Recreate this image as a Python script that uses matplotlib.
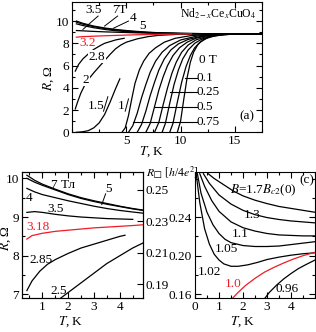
"""Nd2-xCexCuO4 resistance curves: R(T) at fields, low-T zoom, theory curves"""
import matplotlib
matplotlib.use("Agg")
import matplotlib.pyplot as plt
from matplotlib.ticker import MultipleLocator, FixedLocator

plt.rcParams['font.family'] = ['Liberation Serif', 'DejaVu Serif']
plt.rcParams['mathtext.fontset'] = 'stix'
plt.rcParams['font.size'] = 9.5

# ---- panel (a): R(T) at fields, full range ----
# superconducting transitions (B = 1, 0.75, 0.6, 0.5, 0.35, 0.25, 0.1, 0 T)
trans_T = [
    [4.6, 4.9, 5.2, 5.5, 5.8, 6.2, 6.6, 7.1, 7.7, 8.5, 9.5, 11, 13, 17.5],
    [5.2, 5.6, 6.0, 6.4, 6.8, 7.2, 7.7, 8.3, 9.0, 10, 11.5, 13, 17.5],
    [6.0, 6.4, 6.8, 7.2, 7.6, 8.0, 8.5, 9.1, 9.8, 10.7, 12, 13.5, 17.5],
    [6.8, 7.2, 7.6, 8.0, 8.4, 8.8, 9.3, 9.9, 10.6, 11.4, 12.5, 14, 17.5],
    [7.6, 8.0, 8.4, 8.8, 9.2, 9.6, 10.1, 10.7, 11.4, 12.2, 13.2, 14.5, 17.5],
    [8.3, 8.6, 9.0, 9.4, 9.8, 10.2, 10.7, 11.3, 12.0, 12.8, 13.8, 15, 17.5],
    [9.0, 9.3, 9.7, 10.1, 10.5, 10.9, 11.3, 11.8, 12.4, 13.1, 14, 15.2, 17.5],
    [9.7, 10.0, 10.3, 10.6, 10.9, 11.2, 11.6, 12.1, 12.7, 13.4, 14.3, 15.5, 17.5],
]
trans_R = [
    [0, 0.4, 1.5, 3.0, 4.4, 5.6, 6.4, 7.1, 7.6, 8.1, 8.45, 8.7, 8.82, 8.85],
    [0, 0.6, 1.7, 3.1, 4.3, 5.4, 6.4, 7.2, 7.8, 8.3, 8.65, 8.8, 8.85],
    [0, 0.7, 1.9, 3.3, 4.5, 5.6, 6.6, 7.4, 7.95, 8.35, 8.65, 8.8, 8.85],
    [0, 0.8, 2.3, 3.8, 5.0, 6.0, 6.9, 7.6, 8.1, 8.45, 8.7, 8.82, 8.85],
    [0, 0.9, 2.5, 4.0, 5.3, 6.3, 7.2, 7.85, 8.3, 8.55, 8.72, 8.82, 8.85],
    [0, 0.8, 2.6, 4.3, 5.6, 6.6, 7.4, 8.0, 8.4, 8.62, 8.76, 8.83, 8.85],
    [0, 0.8, 2.7, 4.5, 5.9, 6.9, 7.6, 8.1, 8.45, 8.65, 8.78, 8.84, 8.85],
    [0, 1.0, 3.0, 4.9, 6.3, 7.2, 7.9, 8.35, 8.6, 8.75, 8.82, 8.85, 8.85],
]

T_15 = [0.4, 1.0, 1.5, 2.0, 2.5, 3.0, 3.5, 4.0, 4.4]
R_15 = [0.0, 0.05, 0.15, 0.4, 0.85, 1.6, 2.7, 3.9, 4.8]

T_2 = [0.3, 0.5, 0.8, 1.2, 1.5, 2.0, 2.5, 3.0, 3.5, 4.0, 4.5, 5.0, 6.0, 7.0, 8.0, 10, 12, 14, 17.5]
R_2 = [2.1, 2.7, 3.5, 4.3, 4.75, 5.35, 5.9, 6.45, 7.0, 7.5, 7.85, 8.1, 8.4, 8.6, 8.72, 8.82, 8.85, 8.85, 8.85]

T_28 = [0.3, 0.6, 1.0, 1.5, 2.0, 2.6, 3.0, 3.5, 4.0, 4.5, 4.8]
R_28 = [5.5, 6.1, 6.6, 7.05, 7.45, 7.8, 8.0, 8.15, 8.3, 8.4, 8.45]

T_32 = [0.4, 1, 2, 3, 4, 5, 6, 7, 8, 10, 11]
R_32 = [8.55, 8.6, 8.64, 8.68, 8.71, 8.74, 8.77, 8.79, 8.81, 8.84, 8.85]

T_hi = [0.4, 1, 2, 3, 4, 5, 6, 7, 8, 10, 12, 14, 17.5]
R_35 = [9.15, 9.12, 9.07, 9.03, 9.0, 8.97, 8.94, 8.92, 8.9, 8.87, 8.86, 8.85, 8.85]
R_4 = [9.75, 9.6, 9.4, 9.25, 9.13, 9.05, 9.0, 8.95, 8.92, 8.88, 8.86, 8.85, 8.85]
R_5 = [9.9, 9.72, 9.5, 9.33, 9.2, 9.1, 9.03, 8.98, 8.94, 8.89, 8.87, 8.85, 8.85]
R_7 = [10.0, 9.8, 9.55, 9.38, 9.25, 9.15, 9.07, 9.0, 8.95, 8.9, 8.87, 8.85, 8.85]

# ---- panel (b): low-T zoom ----
Tb = [0.4, 0.7, 1.0, 1.5, 2.0, 2.5, 3.0, 3.5, 4.0, 4.5, 4.9]
Rb_7 = [10.08, 9.95, 9.85, 9.72, 9.6, 9.5, 9.42, 9.35, 9.28, 9.22, 9.18]
Rb_5 = [10.0, 9.9, 9.82, 9.7, 9.58, 9.48, 9.4, 9.33, 9.27, 9.21, 9.17]
Rb_4 = [9.74, 9.65, 9.58, 9.5, 9.42, 9.35, 9.28, 9.22, 9.17, 9.13, 9.1]
Tb_35 = [0.4, 0.7, 1.0, 1.5, 2.0, 2.5, 3.0, 3.5, 4.0, 4.5]
Rb_35 = [9.12, 9.14, 9.12, 9.07, 9.03, 9.0, 8.98, 8.96, 8.95, 8.94]
Tb_318 = [0.4, 0.6, 1.0, 1.5, 2.0, 2.5, 3.0, 3.5, 4.0, 4.5, 4.9]
Rb_318 = [8.43, 8.52, 8.58, 8.63, 8.66, 8.69, 8.72, 8.74, 8.76, 8.78, 8.8]
Tb_285 = [0.4, 0.6, 0.9, 1.2, 1.5, 2.0, 2.5, 3.0, 3.5, 4.0, 4.2]
Rb_285 = [7.1, 7.35, 7.6, 7.78, 7.9, 8.06, 8.2, 8.3, 8.4, 8.5, 8.53]
Tb_25 = [1.7, 2.0, 2.5, 3.0, 3.5, 4.0, 4.5, 4.9]
Rb_25 = [6.9, 7.05, 7.3, 7.55, 7.8, 8.0, 8.2, 8.33]
rsq_ticks = [0.19, 0.21, 0.23, 0.25]

# ---- panel (c): theory, R_sq in h/4e^2 ----
Tc_17 = [0.55, 0.8, 1.2, 1.6, 2.0, 2.5, 3.0, 3.5, 4.0, 4.5, 5.0]
Rc_17 = [0.285, 0.280, 0.2735, 0.267, 0.262, 0.2575, 0.254, 0.251, 0.249, 0.247, 0.245]
Tc_13 = [0.35, 0.6, 1.0, 1.5, 2.0, 2.5, 3.0, 3.5, 4.0, 4.5, 5.0]
Rc_13 = [0.285, 0.275, 0.263, 0.2535, 0.247, 0.2425, 0.2395, 0.2375, 0.236, 0.235, 0.234]
Tc_11 = [0.2, 0.4, 0.7, 1.0, 1.5, 2.0, 2.5, 3.0, 3.5, 4.0, 4.5, 5.0]
Rc_11 = [0.285, 0.272, 0.257, 0.246, 0.235, 0.229, 0.2255, 0.223, 0.2215, 0.221, 0.2205, 0.2205]
Tc_105 = [0.1, 0.25, 0.5, 0.75, 1.0, 1.25, 1.5, 2.0, 2.5, 3.0, 3.5, 4.0, 4.5, 5.0]
Rc_105 = [0.285, 0.265, 0.245, 0.232, 0.223, 0.217, 0.2135, 0.2105, 0.2095, 0.2095, 0.210, 0.2115, 0.213, 0.2145]
Tc_102 = [0.05, 0.2, 0.4, 0.6, 0.8, 1.0, 1.2, 1.5, 1.8, 2.2, 2.6, 3.0, 3.5, 4.0, 4.5, 5.0]
Rc_102 = [0.285, 0.255, 0.228, 0.212, 0.2015, 0.1955, 0.1915, 0.189, 0.189, 0.1905, 0.193, 0.196,
          0.1985, 0.2005, 0.202, 0.203]
Tc_10 = [1.55, 1.8, 2.1, 2.5, 2.9, 3.3, 3.7, 4.1, 4.5, 5.0]
Rc_10 = [0.1555, 0.162, 0.169, 0.1765, 0.183, 0.188, 0.1925, 0.1965, 0.2, 0.2035]
Tc_096 = [2.9, 3.1, 3.4, 3.7, 4.0, 4.3, 4.6, 5.0]
Rc_096 = [0.1555, 0.162, 0.1695, 0.176, 0.1815, 0.1865, 0.1905, 0.1955]

lw = 0.9
red = '#ee1c25'


def style_axes(ax):
    ax.tick_params(which='both', direction='in', top=True, right=True, pad=2)
    ax.tick_params(which='major', length=4, width=0.8)
    ax.tick_params(which='minor', length=2.5, width=0.8)
    for s in ax.spines.values():
        s.set_linewidth(0.8)


fig = plt.figure(figsize=(3.16, 3.32), dpi=100)

# panel (a)
ax1 = fig.add_axes([0.228, 0.6015, 0.601, 0.392])
for tt, rr in zip(trans_T, trans_R):
    ax1.plot(tt, rr, 'k', lw=lw)
ax1.plot(T_15, R_15, 'k', lw=lw)
ax1.plot(T_2, R_2, 'k', lw=lw)
ax1.plot(T_28, R_28, 'k', lw=lw)
ax1.plot(T_hi, R_35, 'k', lw=lw)
ax1.plot(T_hi, R_4, 'k', lw=lw)
ax1.plot(T_hi, R_5, 'k', lw=lw)
ax1.plot(T_hi, R_7, 'k', lw=lw)
ax1.plot(T_32, R_32, color=red, lw=lw)
ax1.set_xlim(0, 17.5)
ax1.set_ylim(0, 11.7)
ax1.xaxis.set_major_locator(FixedLocator([5, 10, 15]))
ax1.xaxis.set_minor_locator(MultipleLocator(2.5))
ax1.yaxis.set_major_locator(MultipleLocator(2))
ax1.yaxis.set_minor_locator(MultipleLocator(1))
style_axes(ax1)
ax1.set_xlabel('$T$, K')
ax1.xaxis.set_label_coords(0.42, -0.095)
ax1.set_ylabel('$R$, Ω')
ax1.yaxis.set_label_coords(-0.085, 0.42)

ax1.text(2.0, 11.0, '3.5', ha='center', va='center')
ax1.plot([2.4, 1.0], [10.45, 9.25], 'k', lw=0.7)
ax1.text(4.4, 11.0, '7T', ha='center', va='center')
ax1.plot([4.2, 3.0], [10.45, 9.55], 'k', lw=0.7)
ax1.text(5.6, 10.3, '4', ha='center', va='center')
ax1.plot([5.2, 3.8], [10.0, 9.35], 'k', lw=0.7)
ax1.text(6.5, 9.6, '5', ha='center', va='center')
ax1.text(1.4, 8.0, '3.2', ha='center', va='center', color=red)
ax1.text(2.3, 6.8, '2.8', ha='center', va='center',
         bbox=dict(facecolor='white', edgecolor='none', pad=0.3))
ax1.text(1.3, 4.7, '2', ha='center', va='center',
         bbox=dict(facecolor='white', edgecolor='none', pad=0.3))
ax1.text(2.2, 2.4, '1.5', ha='center', va='center')
ax1.plot([2.9, 3.3], [1.9, 3.2], 'k', lw=0.7)
ax1.text(4.5, 2.4, '1', ha='center', va='center')
ax1.plot([4.9, 5.2], [1.9, 3.0], 'k', lw=0.7)
ax1.text(11.7, 6.5, '0 T', ha='left', va='center')
for lab, rr, t0 in [('0.1', 4.9, 10.4), ('0.25', 3.6, 9.0), ('0.5', 2.3, 7.6), ('0.75', 0.95, 5.6)]:
    ax1.plot([t0, 11.5], [rr, rr], 'k', lw=0.8)
    ax1.text(11.5, rr, lab, ha='left', va='center')
ax1.text(17.0, 10.65, 'Nd$_{2-x}$Ce$_x$CuO$_4$', ha='right', va='center', fontsize=8.5)
ax1.text(16.8, 1.4, '(a)', ha='right', va='center')

# panel (b)
ax2 = fig.add_axes([0.0687, 0.1015, 0.384, 0.380])
ax2.plot(Tb, Rb_7, 'k', lw=lw)
ax2.plot(Tb, Rb_5, 'k', lw=lw)
ax2.plot(Tb, Rb_4, 'k', lw=lw)
ax2.plot(Tb_35, Rb_35, 'k', lw=lw)
ax2.plot(Tb_318, Rb_318, color=red, lw=lw)
ax2.plot(Tb_285, Rb_285, 'k', lw=lw)
ax2.plot(Tb_25, Rb_25, 'k', lw=lw)
ax2.set_xlim(0.2, 4.9)
ax2.set_ylim(6.9, 10.16)
ax2.xaxis.set_major_locator(MultipleLocator(1))
ax2.xaxis.set_minor_locator(MultipleLocator(0.5))
ax2.yaxis.set_major_locator(MultipleLocator(1))
ax2.yaxis.set_minor_locator(MultipleLocator(0.5))
style_axes(ax2)
ax2.tick_params(right=False, which='both')
ax2.set_xlabel('$T$, K')
ax2.xaxis.set_label_coords(0.40, -0.125)
ax2.set_ylabel('$R$, Ω')
ax2.yaxis.set_label_coords(-0.07, 0.475)
# sheet resistance scale on the right
ax2r = ax2.twinx()
ax2r.set_ylim(0.25 + (6.9 - 9.71) * 0.02458, 0.25 + (10.16 - 9.71) * 0.02458)
ax2r.yaxis.set_major_locator(FixedLocator(rsq_ticks))
ax2r.set_yticklabels([f'{v:.2f}' for v in rsq_ticks])
ax2r.tick_params(which='both', direction='in', pad=2, length=4, width=0.8)
ax2r.spines['right'].set_linewidth(0.8)

ax2.text(1.8, 9.83, '7 Тл', ha='center', va='center')
ax2.text(3.55, 9.72, '5', ha='center', va='center')
ax2.plot([3.45, 3.3], [9.6, 9.32], 'k', lw=0.7)
ax2.text(0.5, 9.48, '4', ha='center', va='center')
ax2.text(1.5, 9.22, '3.5', ha='center', va='center')
ax2.text(0.85, 8.74, '3.18', ha='center', va='center', color=red)
ax2.text(0.95, 7.88, '2.85', ha='center', va='center')
ax2.text(1.65, 7.08, '2.5', ha='center', va='center')
fig.text(0.462, 0.479, '$R_{\u25a1}$ [$h$/4$e^2$]', ha='left', va='center', fontsize=8.5)

# panel (c)
ax3 = fig.add_axes([0.617, 0.1015, 0.380, 0.380])
for tt, rr in [(Tc_17, Rc_17), (Tc_13, Rc_13), (Tc_11, Rc_11), (Tc_105, Rc_105),
               (Tc_102, Rc_102), (Tc_096, Rc_096)]:
    ax3.plot(tt, rr, 'k', lw=lw)
ax3.plot(Tc_10, Rc_10, color=red, lw=lw)
ax3.set_xlim(0, 5)
ax3.set_ylim(0.1558, 0.2866)
ax3.xaxis.set_major_locator(FixedLocator([0, 1, 2, 3, 4]))
ax3.xaxis.set_minor_locator(MultipleLocator(0.5))
ax3.yaxis.set_major_locator(FixedLocator([0.16, 0.20, 0.24]))
ax3.yaxis.set_minor_locator(FixedLocator([0.18, 0.22, 0.26, 0.28]))
ax3.set_yticklabels(['0.16', '0.20', '0.24'])
style_axes(ax3)
ax3.set_xlabel('$T$, K')
ax3.xaxis.set_label_coords(0.40, -0.125)

ax3.text(2.85, 0.268, '$B$=1.7$B_{c2}$(0)', ha='center', va='center')
ax3.text(4.65, 0.278, '(c)', ha='center', va='center')
ax3.text(2.36, 0.242, '1.3', ha='center', va='center')
ax3.text(1.87, 0.2227, '1.1', ha='center', va='center')
ax3.text(1.32, 0.207, '1.05', ha='center', va='center')
ax3.text(0.62, 0.1835, '1.02', ha='center', va='center')
ax3.text(1.6, 0.1707, '1.0', ha='center', va='center', color=red)
ax3.text(3.82, 0.165, '0.96', ha='center', va='center')

fig.savefig('out.png', dpi=100)
